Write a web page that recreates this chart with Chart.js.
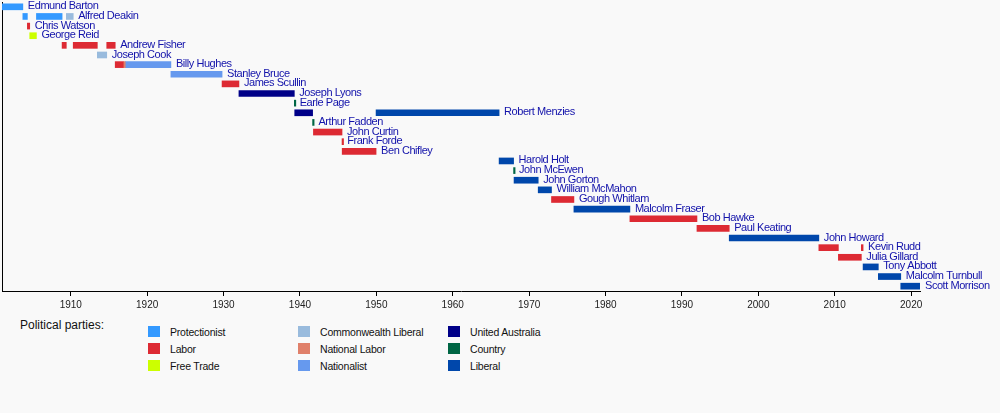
<!DOCTYPE html>
<html>
<head>
<meta charset="utf-8">
<script src="https://cdn.jsdelivr.net/npm/chart.js@4/dist/chart.umd.min.js"></script>
<style>
  body { margin: 0; background: #f9f9f9; font-family: "Liberation Sans", Arial, sans-serif; }
  #wrap { position: relative; width: 1000px; height: 413px; }
  #box { position: absolute; left: 0; top: 0; width: 1000px; height: 314px; }
  .title { position: absolute; left: 20px; top: 318px; font-size: 12px; color: #111; }
  .item { position: absolute; font-size: 10.5px; color: #111; letter-spacing: -0.2px; }
  .item span { position: absolute; left: -22px; top: 0; width: 12px; height: 11px; }
</style>
</head>
<body>
<div id="wrap">
  <div id="box"><canvas id="timeline"></canvas></div>
  <div class="title">Political parties:</div>
  <div id="legend"></div>
</div>
<script>
// Prime ministers, one row each (top to bottom)
const pmNames = [
  "Edmund Barton", "Alfred Deakin", "Chris Watson", "George Reid", "Andrew Fisher",
  "Joseph Cook", "Billy Hughes", "Stanley Bruce", "James Scullin", "Joseph Lyons",
  "Earle Page", "Robert Menzies", "Arthur Fadden", "John Curtin", "Frank Forde",
  "Ben Chifley", "Harold Holt", "John McEwen", "John Gorton", "William McMahon",
  "Gough Whitlam", "Malcolm Fraser", "Bob Hawke", "Paul Keating", "John Howard",
  "Kevin Rudd", "Julia Gillard", "Tony Abbott", "Malcolm Turnbull", "Scott Morrison"
];

const parties = [
  "Protectionist", "Labor", "Free Trade",
  "Commonwealth Liberal", "National Labor", "Nationalist",
  "United Australia", "Country", "Liberal"
];
const partyColors = [
  "#3399ff", "#dd2a33", "#ccff00",
  "#99bbdd", "#e0806a", "#6699ee",
  "#000088", "#006644", "#0047ab"
];

// Terms in office
const termPM = [
  "Edmund Barton", "Alfred Deakin", "Chris Watson", "George Reid", "Alfred Deakin",
  "Andrew Fisher", "Alfred Deakin", "Andrew Fisher", "Joseph Cook", "Andrew Fisher",
  "Billy Hughes", "Billy Hughes", "Billy Hughes", "Stanley Bruce", "James Scullin",
  "Joseph Lyons", "Earle Page", "Robert Menzies", "Arthur Fadden", "John Curtin",
  "Frank Forde", "Ben Chifley", "Robert Menzies", "Harold Holt", "John McEwen",
  "John Gorton", "William McMahon", "Gough Whitlam", "Malcolm Fraser", "Bob Hawke",
  "Paul Keating", "John Howard", "Kevin Rudd", "Julia Gillard", "Kevin Rudd",
  "Tony Abbott", "Malcolm Turnbull", "Scott Morrison"
];
const termParty = [
  "Protectionist", "Protectionist", "Labor", "Free Trade", "Protectionist",
  "Labor", "Commonwealth Liberal", "Labor", "Commonwealth Liberal", "Labor",
  "Labor", "National Labor", "Nationalist", "Nationalist", "Labor",
  "United Australia", "Country", "United Australia", "Country", "Labor",
  "Labor", "Labor", "Liberal", "Liberal", "Country",
  "Liberal", "Liberal", "Labor", "Liberal", "Labor",
  "Labor", "Liberal", "Labor", "Labor", "Labor",
  "Liberal", "Liberal", "Liberal"
];
const termStart = [
  "1901-01-01", "1903-09-24", "1904-04-27", "1904-08-18", "1905-07-05",
  "1908-11-13", "1909-06-02", "1910-04-29", "1913-06-24", "1914-09-17",
  "1915-10-27", "1916-11-14", "1917-02-17", "1923-02-09", "1929-10-22",
  "1932-01-06", "1939-04-07", "1939-04-26", "1941-08-29", "1941-10-07",
  "1945-07-06", "1945-07-13", "1949-12-19", "1966-01-26", "1967-12-19",
  "1968-01-10", "1971-03-10", "1972-12-05", "1975-11-11", "1983-03-11",
  "1991-12-20", "1996-03-11", "2007-12-03", "2010-06-24", "2013-06-27",
  "2013-09-18", "2015-09-15", "2018-08-24"
];
const termEnd = [
  "1903-09-24", "1904-04-27", "1904-08-18", "1905-07-05", "1908-11-13",
  "1909-06-02", "1910-04-29", "1913-06-24", "1914-09-17", "1915-10-27",
  "1916-11-14", "1917-02-17", "1923-02-09", "1929-10-22", "1932-01-06",
  "1939-04-07", "1939-04-26", "1941-08-29", "1941-10-07", "1945-07-05",
  "1945-07-13", "1949-12-19", "1966-01-26", "1967-12-19", "1968-01-10",
  "1971-03-10", "1972-12-05", "1975-11-11", "1983-03-11", "1991-12-20",
  "1996-03-11", "2007-12-03", "2010-06-24", "2013-06-27", "2013-09-18",
  "2015-09-15", "2018-08-24", "2021-03-01"
];

const tickYears = [1910, 1920, 1930, 1940, 1950, 1960, 1970, 1980, 1990, 2000, 2010, 2020];

// date string -> fractional year
function yearOf(s) {
  const d = Date.parse(s + "T00:00:00Z");
  const y = new Date(d).getUTCFullYear();
  const a = Date.UTC(y, 0, 1), b = Date.UTC(y + 1, 0, 1);
  return y + (d - a) / (b - a);
}

const datasets = parties.map(function(p, k) {
  const data = [];
  termParty.forEach(function(tp, i) {
    if (tp === p) data.push({ x: [yearOf(termStart[i]), yearOf(termEnd[i])], y: termPM[i] });
  });
  return { label: p, data: data, backgroundColor: partyColors[k] };
});

// last end per PM, for the name labels
const lastEnd = pmNames.map(function(n) {
  let m = -Infinity;
  termPM.forEach(function(t, i) { if (t === n) m = Math.max(m, yearOf(termEnd[i])); });
  return m;
});

const nameLabels = {
  id: "nameLabels",
  afterDatasetsDraw(chart) {
    const ctx = chart.ctx;
    const xs = chart.scales.x, ys = chart.scales.y;
    ctx.save();
    ctx.font = "11px 'Liberation Sans', Arial, sans-serif";
    ctx.letterSpacing = "-0.45px";
    ctx.fillStyle = "#1212aa";
    ctx.textBaseline = "middle";
    pmNames.forEach(function(n, i) {
      ctx.fillText(n, xs.getPixelForValue(lastEnd[i]) + 5, ys.getPixelForValue(i) - 0.5);
    });
    ctx.restore();
  }
};

new Chart(document.getElementById("timeline"), {
  type: "bar",
  data: { labels: pmNames, datasets: datasets },
  options: {
    indexAxis: "y",
    responsive: true,
    maintainAspectRatio: false,
    animation: false,
    grouped: false,
    barThickness: 6,
    minBarLength: 1.5,
    layout: { padding: { left: 2, right: 80, top: 2, bottom: 0 } },
    plugins: { legend: { display: false }, tooltip: { enabled: false } },
    scales: {
      x: {
        type: "linear",
        min: yearOf(termStart[0]),
        max: yearOf(termEnd[termEnd.length - 1]),
        afterBuildTicks: function(scale) { scale.ticks = tickYears.map(function(v) { return { value: v }; }); },
        ticks: {
          autoSkip: false, maxRotation: 0, padding: 3, color: "#222",
          font: { family: "'Liberation Sans', Arial", size: 10 },
          callback: function(v) { return String(v); }
        },
        grid: { display: true, drawOnChartArea: false, drawTicks: true, tickLength: 5, color: "#000" },
        border: { display: true, color: "#000", width: 1 }
      },
      y: {
        ticks: { display: false },
        grid: { display: true, drawOnChartArea: false, drawTicks: false },
        border: { display: true, color: "#000", width: 1 }
      }
    }
  },
  plugins: [nameLabels]
});

// legend: three columns of three
const legend = document.getElementById("legend");
parties.forEach(function(p, k) {
  const col = Math.floor(k / 3), row = k % 3;
  const el = document.createElement("div");
  el.className = "item";
  el.style.left = (170 + col * 150) + "px";
  el.style.top = (326 + row * 17) + "px";
  el.innerHTML = '<span style="background:' + partyColors[k] + '"></span>' + p;
  legend.appendChild(el);
});
</script>
</body>
</html>
